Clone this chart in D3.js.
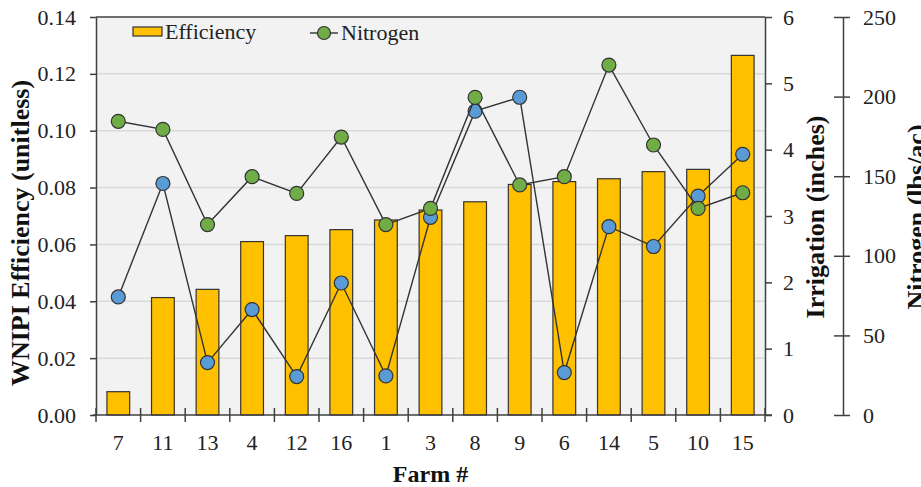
<!DOCTYPE html>
<html><head><meta charset="utf-8">
<script src="https://cdn.jsdelivr.net/npm/d3@7"></script>
<style>body{margin:0;background:#fff}svg{display:block}</style>
</head><body>
<script>
const farms = ["7","11","13","4","12","16","1","3","8","9","6","14","5","10","15"];
const efficiency = [0.0082,0.0413,0.0442,0.0610,0.0631,0.0652,0.0686,0.0721,0.0750,0.0811,0.0821,0.0831,0.0856,0.0864,0.1265];
const irrigation = [1.78,3.49,0.79,1.59,0.58,1.99,0.59,2.98,4.58,4.79,0.64,2.84,2.54,3.30,3.93];
const nitrogen = [184.5,179.4,119.6,149.7,139.2,174.6,119.6,129.8,199.5,144.5,149.7,219.8,169.6,129.8,139.6];
const effTicks = [0,0.02,0.04,0.06,0.08,0.10,0.12,0.14];
const irrTicks = [0,1,2,3,4,5,6];
const nitTicks = [0,50,100,150,200,250];

const W=921,H=487;
const L=96,R=765,T=17,B=415;
const font="'Liberation Serif','Times New Roman',serif";
const axisCol="#404040";
const FS=22;

const svg=d3.select("body").append("svg").attr("width",W).attr("height",H)
  .style("font-family",font);

const p=0.49;
const x=d3.scaleBand().domain(farms).range([L,R]).paddingInner(p).paddingOuter(p/2);
const yE=d3.scaleLinear().domain([0,0.14]).range([B,T]);
const yI=d3.scaleLinear().domain([0,6]).range([B,T]);
const yN=d3.scaleLinear().domain([0,250]).range([B,T]);

// plot background
svg.append("rect").attr("x",L).attr("y",T).attr("width",R-L).attr("height",B-T).attr("fill","#f2f2f2");
// gridlines
svg.append("g").selectAll("line").data(effTicks.filter(d=>d>0&&d<0.14)).join("line")
  .attr("x1",L).attr("x2",R).attr("y1",d=>yE(d)).attr("y2",d=>yE(d))
  .attr("stroke","#d9d9d9").attr("stroke-width",1.5);
// top border
svg.append("line").attr("x1",L).attr("x2",R).attr("y1",T).attr("y2",T).attr("stroke",axisCol).attr("stroke-width",1.3);

// bars
svg.append("g").selectAll("rect").data(farms).join("rect")
  .attr("x",d=>x(d)).attr("width",x.bandwidth())
  .attr("y",(d,i)=>yE(efficiency[i])).attr("height",(d,i)=>B-yE(efficiency[i]))
  .attr("fill","#ffc000").attr("stroke","#333").attr("stroke-width",1.2);

const cx=d=>x(d)+x.bandwidth()/2;

function series(vals,scale,color){
  const g=svg.append("g");
  g.append("path").datum(farms)
    .attr("d",d3.line().x(d=>cx(d)).y((d,i)=>scale(vals[i])))
    .attr("fill","none").attr("stroke","#333").attr("stroke-width",1.4);
  g.selectAll("circle").data(farms).join("circle")
    .attr("cx",d=>cx(d)).attr("cy",(d,i)=>scale(vals[i])).attr("r",7)
    .attr("fill",color).attr("stroke","#333").attr("stroke-width",1.2);
}
series(irrigation,yI,"#5b9bd5");
series(nitrogen,yN,"#70ad47");

// left axis
const gl=svg.append("g").attr("transform",`translate(${L},0)`)
  .call(d3.axisLeft(yE).tickValues(effTicks).tickFormat(d3.format(".2f")).tickSize(6).tickSizeOuter(0).tickPadding(14));
// right irrigation axis
const gr=svg.append("g").attr("transform",`translate(${R},0)`)
  .call(d3.axisRight(yI).tickValues(irrTicks).tickFormat(d3.format("d")).tickSize(7).tickSizeOuter(0).tickPadding(11));
// nitrogen axis
const NX=843;
const gn=svg.append("g").attr("transform",`translate(${NX},0)`)
  .call(d3.axisRight(yN).tickValues(nitTicks).tickFormat(d3.format("d")).tickSize(7).tickSizeOuter(0).tickPadding(13));
gn.selectAll(".tick line").attr("x1",-9);

[gl,gr,gn].forEach(g=>{
  g.attr("font-family",font).attr("font-size",FS);
  g.select(".domain").attr("stroke",axisCol).attr("stroke-width",1.5);
  g.selectAll(".tick line").attr("stroke",axisCol).attr("stroke-width",1.5);
  g.selectAll(".tick text").attr("font-family",font).attr("font-size",FS).attr("fill","#222");
});

// x axis
svg.append("line").attr("x1",L-3).attr("x2",R+7).attr("y1",B).attr("y2",B).attr("stroke",axisCol).attr("stroke-width",1.5);
const bounds=d3.range(farms.length+1).map(i=>L+i*x.step());
svg.append("g").selectAll("line").data(bounds).join("line")
  .attr("x1",d=>d).attr("x2",d=>d).attr("y1",B-7).attr("y2",B+7)
  .attr("stroke",axisCol).attr("stroke-width",1.5);
svg.append("g").selectAll("text").data(farms).join("text")
  .attr("x",d=>cx(d)).attr("y",450).attr("text-anchor","middle")
  .attr("font-size",FS).attr("fill","#222").text(d=>d);

// axis titles
svg.append("text").attr("x",L+(R-L)/2).attr("y",482).attr("text-anchor","middle")
  .attr("font-size",24).attr("font-weight","bold").attr("fill","#111").text("Farm #");
svg.append("text").attr("transform","translate(29,233) rotate(-90)").attr("text-anchor","middle")
  .attr("font-size",26).attr("font-weight","bold").attr("fill","#111").text("WNIPI Efficiency (unitless)");
svg.append("text").attr("transform","translate(824,217) rotate(-90)").attr("text-anchor","middle")
  .attr("font-size",26).attr("font-weight","bold").attr("fill","#111").text("Irrigation (inches)");
svg.append("text").attr("transform","translate(925,217) rotate(-90)").attr("text-anchor","middle")
  .attr("font-size",26).attr("font-weight","bold").attr("fill","#111").text("Nitrogen (lbs/ac)");

// legend
const lg=svg.append("g");
lg.append("rect").attr("x",133).attr("y",27).attr("width",29).attr("height",9)
  .attr("fill","#ffc000").attr("stroke","#333").attr("stroke-width",1.2);
lg.append("text").attr("x",165).attr("y",39).attr("font-size",FS).attr("fill","#222").text("Efficiency");
lg.append("line").attr("x1",310).attr("x2",338).attr("y1",33).attr("y2",33).attr("stroke","#333").attr("stroke-width",1.4);
lg.append("circle").attr("cx",324).attr("cy",33).attr("r",6.5).attr("fill","#70ad47").attr("stroke","#333").attr("stroke-width",1.2);
lg.append("text").attr("x",341).attr("y",40).attr("font-size",FS).attr("fill","#222").text("Nitrogen");
</script>
</body></html>
